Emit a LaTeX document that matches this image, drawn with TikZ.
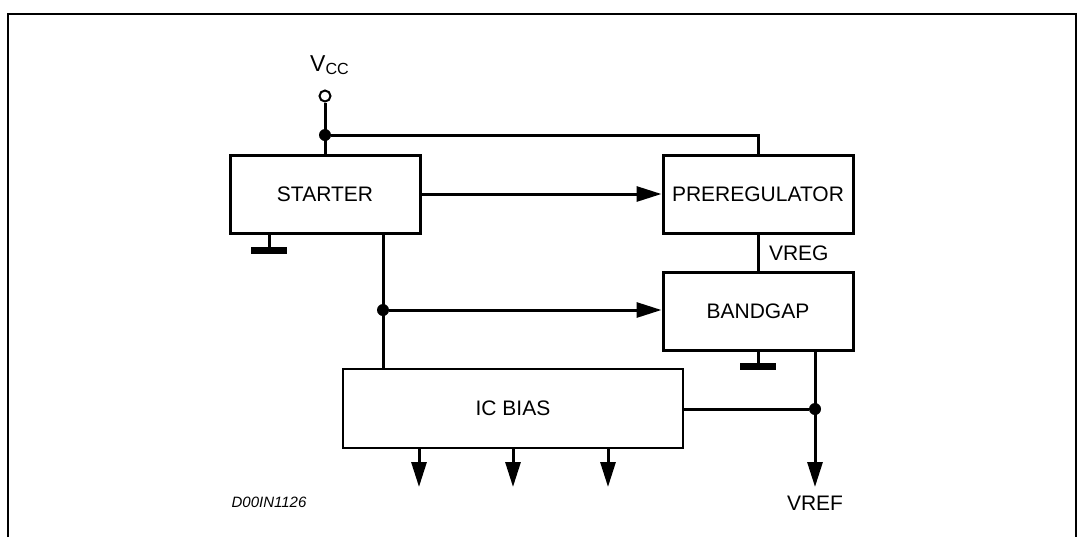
\documentclass[tikz,border=0pt]{standalone}
\usepackage{fontspec}
\setmainfont{Liberation Sans}
\usetikzlibrary{arrows.meta,calc}

\begin{document}
\begin{tikzpicture}[x=0.5pt,y=-0.5pt,font=\fontsize{10.5}{12}\selectfont,
    blk/.style={draw,line width=1.5pt,minimum width=95pt,minimum height=39pt,inner sep=0pt},
    wire/.style={line width=1.5pt},
    arr/.style={wire,-{Triangle[length=12.5pt,width=7.5pt]}},
    dot/.style={circle,fill,inner sep=0pt,minimum size=6pt}]
    \useasboundingbox (0,0) rectangle (1082,537);
    % frame
    \draw[line width=1pt] (8,537) -- (8,14) -- (1076,14) -- (1076,537);
    % blocks
    \node[blk] (starter) at (325,194) {STARTER};
    \node[blk] (prereg) at (758,194) {PREREGULATOR};
    \node[blk] (bandgap) at (758,311) {BANDGAP};
    \node[blk,line width=1pt,minimum width=170pt,minimum height=39.5pt]
      (icbias) at (513,408.5) {IC BIAS};
    % supply
    \node[draw,circle,line width=1pt,fill=white,inner sep=0pt,minimum size=5.5pt]
      (vcc) at (325,96) {};
    \node[anchor=south,font=\fontsize{11.5}{13}\selectfont] (vcclab) at (330,82)
      {V\textsubscript{CC}};
    \node[dot] (j1) at (325,135) {};
    \draw[wire] (vcc) -- (starter.north);
    \draw[wire] (j1) -| (prereg.north);
    \draw[arr] (starter.east) -- (prereg.west);
    % starter to bandgap and ic bias
    \node[dot] (j2) at (383,310) {};
    \draw[wire] (j2 |- starter.south) -- (j2 |- icbias.north);
    \draw[arr] (j2) -- (j2 -| bandgap.west);
    % vreg
    \draw[wire] (prereg) -- (bandgap);
    \node[anchor=west] (vreg) at (762,253) {VREG};
    % grounds
    \coordinate (g1) at (269,250);
    \coordinate (g2) at (758,366);
    \foreach \g/\b in {g1/starter,g2/bandgap} {
      \draw[wire] (\g |- \b.south) -- (\g);
      \fill ($(\g)+(-18,-3.5)$) rectangle ($(\g)+(18,3.5)$);
    }
    % vref
    \node[dot] (j3) at (815,409) {};
    \coordinate (vt) at (815,487);
    \draw[arr] (j3 |- bandgap.south) -- (vt);
    \draw[wire] (icbias.east |- j3) -- (j3);
    \node (vref) at (815,503) {VREF};
    % bias outputs
    \foreach \x [count=\i] in {419,513,608} {
      \coordinate (o\i) at (\x,487);
      \draw[arr] (icbias.south -| o\i) -- (o\i);
    }
    \node[font=\fontsize{7.5}{9}\selectfont\itshape] (ref) at (269,502) {D00IN1126};
  \end{tikzpicture}
\end{document}
